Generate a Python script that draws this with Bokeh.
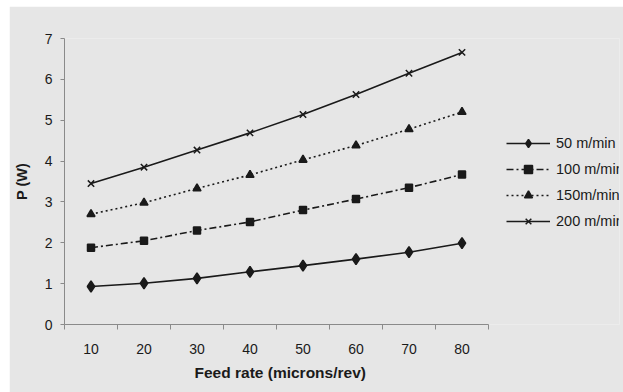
from bokeh.plotting import figure
from bokeh.models import FixedTicker, Legend, LegendItem, Range1d, Title
from bokeh.embed import file_html
from bokeh.resources import INLINE

# Feed rate (microns/rev)
feed_rate = [10, 20, 30, 40, 50, 60, 70, 80]

# Power P (W) at each cutting speed
p_50 = [0.93, 1.01, 1.13, 1.29, 1.44, 1.60, 1.77, 1.99]
p_100 = [1.88, 2.05, 2.30, 2.51, 2.80, 3.07, 3.35, 3.67]
p_150 = [2.70, 2.98, 3.33, 3.66, 4.03, 4.38, 4.78, 5.20]
p_200 = [3.45, 3.85, 4.27, 4.69, 5.14, 5.63, 6.15, 6.66]

series_labels = ["50 m/min", "100 m/min", "150m/min", "200 m/min"]
y_ticks = [0, 1, 2, 3, 4, 5, 6, 7]
x_title = "Feed rate (microns/rev)"

BG = "#e6e6e6"
INK = "#1a1a1a"
AXIS = "#8a8a8a"
FONT = "Liberation Sans"

W, H = 614, 386
left, top, bottom, right = 55, 32, 68, 4
frame_w = W - left - right
# the category band 5..85 occupies 424 px; extend range so the legend fits inside
x_end = 5 + 80 * frame_w / 424.0

p = figure(width=W, height=H, output_backend="svg", toolbar_location=None,
           x_range=Range1d(5, x_end), y_range=Range1d(0, 7),
           min_border_left=left, min_border_top=top,
           min_border_bottom=bottom, min_border_right=right)
p.margin = (6, 0, 0, 9)
p.background_fill_color = BG
p.border_fill_color = BG
p.outline_line_color = None
p.grid.visible = False

# x axis: labels at category centres, ticks on category boundaries
xa = p.xaxis[0]
xa.ticker = FixedTicker(ticks=feed_rate, minor_ticks=[5, 15, 25, 35, 45, 55, 65, 75, 85])
xa.bounds = (5, 85)
xa.major_tick_out = 0
xa.major_tick_in = 0
xa.minor_tick_out = 5
xa.minor_tick_in = 0

ya = p.yaxis[0]
ya.ticker = FixedTicker(ticks=y_ticks)
ya.major_tick_out = 4
ya.major_tick_in = 0
ya.minor_tick_out = 0
ya.minor_tick_in = 0
ya.axis_label = "P (W)"

for ax in (xa, ya):
    ax.axis_line_color = AXIS
    ax.major_tick_line_color = AXIS
    ax.minor_tick_line_color = AXIS
    ax.major_label_text_font = FONT
    ax.major_label_text_font_size = "14px"
    ax.major_label_text_color = INK
    ax.axis_label_text_font = FONT
    ax.axis_label_text_font_size = "14.5px"
    ax.axis_label_text_font_style = "bold"
    ax.axis_label_text_color = INK

xa.major_label_standoff = 14
ya.major_label_standoff = 8
ya.axis_label_standoff = 12

# x axis title, placed under the category band rather than the whole frame
p.add_layout(Title(text=x_title, align="left", offset=119, standoff=10,
                   padding=(11, 0, 0, 0),
                   text_font=FONT, text_font_size="15.5px",
                   text_font_style="bold", text_color=INK), "below")

styles = [
    (p_50, "solid", "diamond", 11),
    (p_100, "7 3 2 3", "square", 7),
    (p_150, "2 3", "triangle", 8),
    (p_200, "solid", "x", 9),
]

items = []
for (vals, dash, marker, size), label in zip(styles, series_labels):
    ln = p.line(feed_rate, vals, line_color=INK, line_width=1.6, line_dash=dash)
    mk = p.scatter(feed_rate, vals, marker=marker, size=size,
                   fill_color=INK, line_color=INK, line_width=1.5)
    items.append(LegendItem(label=label, renderers=[ln, mk]))

legend = Legend(items=items, location=(442, 93),
                glyph_width=44, glyph_height=20, spacing=6,
                label_standoff=6, padding=0, margin=0,
                border_line_color=None, background_fill_alpha=0,
                label_text_font=FONT, label_text_font_size="14.5px",
                label_text_color=INK)
p.add_layout(legend)

open("out.html", "w").write(file_html(p, INLINE))
